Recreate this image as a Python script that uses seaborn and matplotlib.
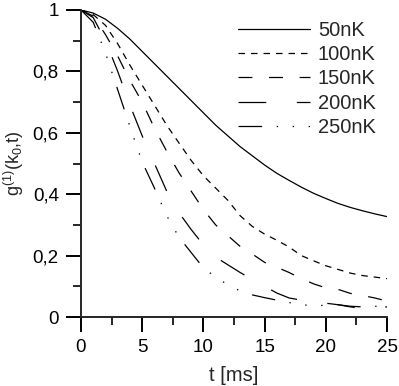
import numpy as np
import pandas as pd
import seaborn as sns
import matplotlib.pyplot as plt

# time axis [ms] and g1 values
t = [0, 1, 2, 3, 4, 5, 6, 7, 8, 9, 10, 11, 12, 13, 14, 15, 16, 17, 18, 19, 20, 21, 22, 23, 24, 25]
g_50 = [1, 0.99, 0.97, 0.94, 0.905, 0.865, 0.825, 0.785, 0.745, 0.705, 0.665, 0.625, 0.59,
        0.555, 0.525, 0.495, 0.468, 0.445, 0.423, 0.403, 0.386, 0.37, 0.357, 0.346, 0.336, 0.327]
g_100 = [1, 0.985, 0.95, 0.89, 0.82, 0.755, 0.69, 0.625, 0.567, 0.51, 0.46, 0.42, 0.38,
         0.33, 0.295, 0.27, 0.25, 0.228, 0.2, 0.183, 0.167, 0.155, 0.143, 0.135, 0.13, 0.125]
g_150 = [1, 0.98, 0.92, 0.85, 0.77, 0.70, 0.615, 0.54, 0.47, 0.41, 0.35, 0.30, 0.265,
         0.23, 0.205, 0.178, 0.162, 0.145, 0.125, 0.108, 0.095, 0.09, 0.077, 0.07, 0.062, 0.052]
g_200 = [1, 0.975, 0.9, 0.8, 0.69, 0.59, 0.50, 0.41, 0.34, 0.285, 0.235, 0.195, 0.17,
         0.145, 0.122, 0.1, 0.078, 0.062, 0.055, 0.05, 0.045, 0.04, 0.033, 0.028, 0.03, 0.033]
g_250 = [1, 0.96, 0.86, 0.74, 0.62, 0.505, 0.42, 0.33, 0.26, 0.21, 0.16, 0.13, 0.105,
         0.085, 0.072, 0.063, 0.055, 0.047, 0.04, 0.037, 0.038, 0.04, 0.035, 0.033, 0.035, 0.035]
temps = ['50nK', '100nK', '150nK', '200nK', '250nK']

yticks = [0, 0.2, 0.4, 0.6, 0.8, 1]
ytick_labels = ['0', '0,2', '0,4', '0,6', '0,8', '1']
xticks = [0, 5, 10, 15, 20, 25]

df = pd.concat([pd.DataFrame({'t': t, 'g': g, 'T': name})
                for name, g in zip(temps, [g_50, g_100, g_150, g_200, g_250])])

sns.set_style('ticks')
plt.rcParams['font.family'] = ['Liberation Sans', 'DejaVu Sans']
plt.rcParams['lines.scale_dashes'] = False
plt.rcParams['mathtext.fontset'] = 'custom'
plt.rcParams['mathtext.rm'] = 'Liberation Sans'
plt.rcParams['mathtext.it'] = 'Liberation Sans'

dash_styles = {
    '50nK': '',
    '100nK': (4.7, 4.3),
    '150nK': (10, 12),
    '200nK': (20, 22),
    '250nK': (17, 10.5, 1, 10.5, 1, 10.5, 1, 10.5),
}

fig = plt.figure(figsize=(3.99, 3.86), dpi=100)
ax = fig.add_axes([81 / 399, 1 - 317 / 386, 306 / 399, 307 / 386])

sns.lineplot(data=df, x='t', y='g', style='T', dashes=dash_styles, color='black',
             linewidth=0.9, legend=False, ax=ax)

ax.set_xlim(0, 25)
ax.set_ylim(0, 1)
ax.set_xticks(xticks)
ax.set_xticks(np.arange(0, 25.1, 2.5), minor=True)
ax.set_yticks(yticks)
ax.set_yticklabels(ytick_labels)
ax.set_yticks(np.arange(0, 1.01, 0.1), minor=True)
sns.despine(ax=ax)
for s in ['left', 'bottom']:
    ax.spines[s].set_linewidth(1.4)
ax.tick_params(which='major', direction='out', length=11, width=1.4, labelsize=13.5,
               pad=5, colors='black')
ax.tick_params(which='minor', direction='out', length=5.5, width=1.4)

ax.set_xlabel('t [ms]', fontsize=14.5, labelpad=7)
ax.set_ylabel('g$^{(1)}$(k$_0$,t)', fontsize=13)
ax.yaxis.set_label_coords(-0.18, 0.5)

ax.legend(handles=ax.lines, labels=temps, loc='upper left',
          bbox_to_anchor=(238 / 399, 1 - 21 / 386), bbox_transform=fig.transFigure,
          frameon=False, fontsize=14.5, handlelength=3.57, handletextpad=0.4,
          labelspacing=0.26, borderpad=0, borderaxespad=0)

fig.savefig('out.png', dpi=100)
